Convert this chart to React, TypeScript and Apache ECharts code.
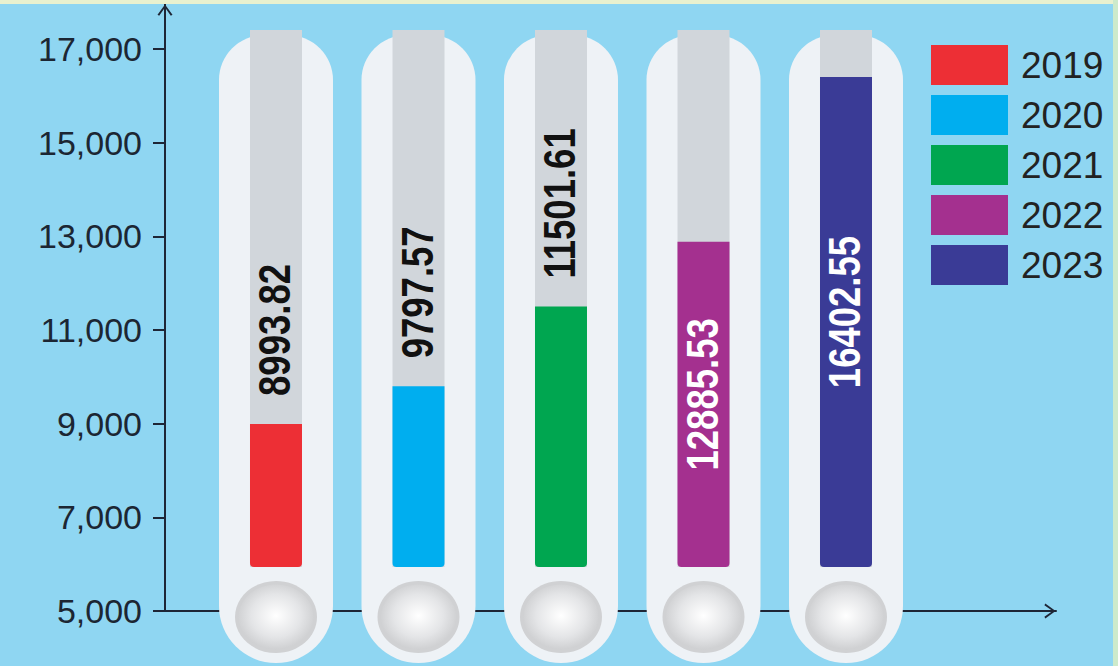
import React, { useEffect, useRef } from 'react';
import * as echarts from 'echarts';

const years = ['2019', '2020', '2021', '2022', '2023'];
const values = [8993.82, 9797.57, 11501.61, 12885.53, 16402.55];
const colors = ['#ed2f35', '#00aeef', '#00a650', '#a4308f', '#3a3b96'];
const yTicks = [5000, 7000, 9000, 11000, 13000, 15000, 17000];

const Y_MIN = 5000;
const Y_MAX = 17962;
const X_MIN = -0.7789;
const X_MAX = 5.4737;
const INSIDE_THRESHOLD = 12000;
const FONT = "'Liberation Sans', Arial, sans-serif";
const AXIS_COLOR = '#1e2636';
const ARROW = 'path://M0,11 L8,0 L16,11 L14.2,12 L8,3.2 L1.8,12 Z';

export default function App() {
  const ref = useRef<HTMLDivElement>(null);
  useEffect(() => {
    const chart = echarts.init(ref.current!, null, { renderer: 'svg' });

    const renderItem = (params: any, api: any) => {
      const i = api.value(0);
      const v = api.value(1);
      const [cx, y0] = api.coord([i, Y_MIN]);
      const top = api.coord([i, v])[1];
      const capTop = y0 - 576;
      const capBottom = y0 + 52;
      const tubeTop = y0 - 581;
      const base = y0 - 44;
      const color = colors[params.seriesIndex];
      const inside = v > INSIDE_THRESHOLD;
      const label = v.toFixed(2);
      return {
        type: 'group',
        children: [
          {
            type: 'rect',
            shape: { x: cx - 57, y: capTop, width: 114, height: capBottom - capTop, r: [45, 45, 57, 57] },
            style: { fill: '#eef2f6' },
          },
          {
            type: 'rect',
            shape: { x: cx - 26, y: tubeTop, width: 52, height: base - tubeTop },
            style: { fill: '#d1d6db' },
          },
          {
            type: 'rect',
            shape: { x: cx - 26, y: top, width: 52, height: base - top, r: [0, 0, 4, 4] },
            style: { fill: color },
          },
          {
            type: 'ellipse',
            shape: { cx, cy: y0 + 6, rx: 41, ry: 36 },
            style: { fill: '#d0d1d3' },
          },
          {
            type: 'ellipse',
            shape: { cx, cy: y0 + 6, rx: 37.5, ry: 32.5 },
            style: {
              fill: new echarts.graphic.RadialGradient(0.5, 0.48, 0.6, [
                { offset: 0, color: '#ffffff' },
                { offset: 0.55, color: '#e4e5e7' },
                { offset: 1, color: '#c6c7c9' },
              ]),
            },
          },
          {
            type: 'text',
            x: cx - 1,
            y: inside ? (top + base) / 2 - 10 : top - 28,
            rotation: Math.PI / 2,
            scaleX: 0.83,
            scaleY: 1,
            style: {
              text: label,
              fill: inside ? '#ffffff' : '#111111',
              fontSize: 44,
              fontWeight: 'bold',
              fontFamily: FONT,
              align: inside ? 'center' : 'left',
              verticalAlign: 'middle',
            },
          },
        ],
      };
    };

    chart.setOption({
      animation: false,
      backgroundColor: '#8fd6f2',
      grid: { left: 165, right: 62, top: 4, bottom: 55 },
      graphic: [
        { type: 'rect', shape: { x: 0, y: 0, width: 1118, height: 4 }, style: { fill: '#e9f1cf' }, z: 100 },
        { type: 'rect', shape: { x: 1113, y: 0, width: 5, height: 666 }, style: { fill: '#cdeacb' }, z: 100 },
      ],
      legend: {
        orient: 'vertical',
        left: 931,
        top: 45,
        padding: 0,
        itemWidth: 77,
        itemHeight: 40,
        itemGap: 10,
        icon: 'rect',
        data: years,
        textStyle: { fontSize: 37, color: '#222222', fontFamily: FONT, lineHeight: 40, padding: [0, 0, 0, 8] },
      },
      xAxis: {
        type: 'value',
        min: X_MIN,
        max: X_MAX,
        axisLine: {
          show: true,
          onZero: false,
          symbol: ['none', ARROW],
          symbolSize: [15, 12],
          symbolOffset: [0, -6],
          lineStyle: { color: AXIS_COLOR, width: 2 },
        },
        axisTick: { show: false },
        axisLabel: { show: false },
        splitLine: { show: false },
      },
      yAxis: [
        {
          type: 'value',
          min: Y_MIN,
          max: Y_MAX,
          interval: 2000,
          position: 'left',
          axisLine: {
            show: true,
            onZero: false,
            symbol: ['none', ARROW],
            symbolSize: [15, 12],
            symbolOffset: [0, -6],
            lineStyle: { color: AXIS_COLOR, width: 2 },
          },
          axisTick: { show: true, length: 12, customValues: yTicks, lineStyle: { color: AXIS_COLOR, width: 2 } },
          axisLabel: {
            customValues: yTicks,
            margin: 23,
            fontSize: 34,
            color: '#1c2633',
            fontFamily: FONT,
            formatter: (v: number) => v.toLocaleString('en-US'),
          },
          splitLine: { show: false },
        },
        {
          type: 'value',
          min: Y_MIN,
          max: Y_MAX,
          interval: 2000,
          position: 'left',
          axisLine: { show: false },
          axisTick: { show: true, inside: true, length: 12, customValues: yTicks, lineStyle: { color: AXIS_COLOR, width: 2 } },
          axisLabel: { show: false },
          splitLine: { show: false },
        },
      ],
      series: years.map((y, i) => ({
        type: 'custom',
        name: y,
        data: [[i, values[i]]],
        encode: { x: 0, y: 1 },
        itemStyle: { color: colors[i] },
        renderItem,
        clip: false,
        z: 3,
      })),
    });

    return () => chart.dispose();
  }, []);

  return <div ref={ref} style={{ position: 'fixed', left: 0, top: 0, width: 1118, height: 666 }} />;
}
